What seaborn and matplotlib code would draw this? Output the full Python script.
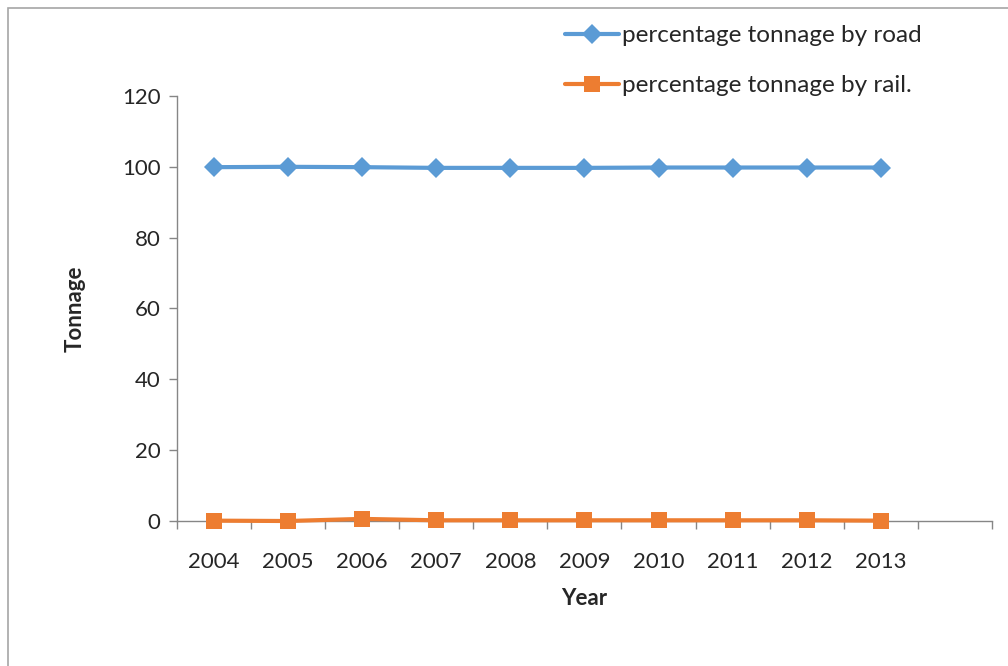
import matplotlib
matplotlib.use("Agg")
import matplotlib.pyplot as plt
import seaborn as sns
import pandas as pd
from matplotlib.patches import Rectangle

# Data
years = ["2004", "2005", "2006", "2007", "2008", "2009", "2010", "2011", "2012", "2013"]
road = [99.9, 100.0, 99.9, 99.7, 99.7, 99.7, 99.8, 99.8, 99.8, 99.8]
rail = [0.1, 0.0, 0.6, 0.2, 0.2, 0.2, 0.2, 0.2, 0.2, 0.1]
y_ticks = [0, 20, 40, 60, 80, 100, 120]

road_label = "percentage tonnage by road"
rail_label = "percentage tonnage by rail."

df_road = pd.DataFrame({"Year": years, "Tonnage": road})
df_rail = pd.DataFrame({"Year": years, "Tonnage": rail})

sns.set_style("white")
plt.rcParams["font.family"] = ["Lato", "DejaVu Sans"]

fig = plt.figure(figsize=(10.08, 6.66), dpi=100)
ax = fig.add_axes([0.1756, 0.2177, 0.8084, 0.6382])

sns.lineplot(data=df_road, x="Year", y="Tonnage", color="#5B9BD5", marker="D",
             markersize=10, markeredgewidth=0, linewidth=3, label=road_label, ax=ax)
sns.lineplot(data=df_rail, x="Year", y="Tonnage", color="#ED7D31", marker="s",
             markersize=11, markeredgewidth=0, linewidth=3, label=rail_label, ax=ax)
for line in ax.lines:
    line.set_clip_on(False)
    line.set_zorder(5)

# axis styling
gray = "#868686"
ax.set_ylim(0, 120)
ax.set_yticks(y_ticks)
ax.set_xlim(-0.5, 10.5)
ax.set_xticks(range(len(years)))
ax.set_xticklabels(years)
ax.set_xticks([i - 0.5 for i in range(12)], minor=True)
ax.tick_params(axis="x", which="major", bottom=True, length=0, pad=22, labelsize=16)
ax.tick_params(axis="x", which="minor", bottom=True, length=6, color=gray, width=1, direction="out")
ax.tick_params(axis="y", left=True, length=6, color=gray, width=1, direction="out", pad=6, labelsize=16)
for side in ["top", "right"]:
    ax.spines[side].set_visible(False)
for side in ["left", "bottom"]:
    ax.spines[side].set_color(gray)
    ax.spines[side].set_linewidth(1)

ax.set_xlabel("Year", fontsize=16, fontweight="bold", labelpad=12)
ax.set_ylabel("Tonnage", fontsize=16, fontweight="bold", labelpad=26)

ax.legend(loc="upper left", bbox_to_anchor=(0.539, 0.995), bbox_transform=fig.transFigure,
          frameon=False, fontsize=17.5, handlelength=2.2, handletextpad=0.15, labelspacing=1.2)

# outer frame
fig.patches.append(Rectangle((8 / 1008, -0.1), 1.0, 1.1 - 8 / 666, transform=fig.transFigure,
                             fill=False, edgecolor="#A6A6A6", linewidth=1.2))

fig.savefig("out.png", dpi=100)
